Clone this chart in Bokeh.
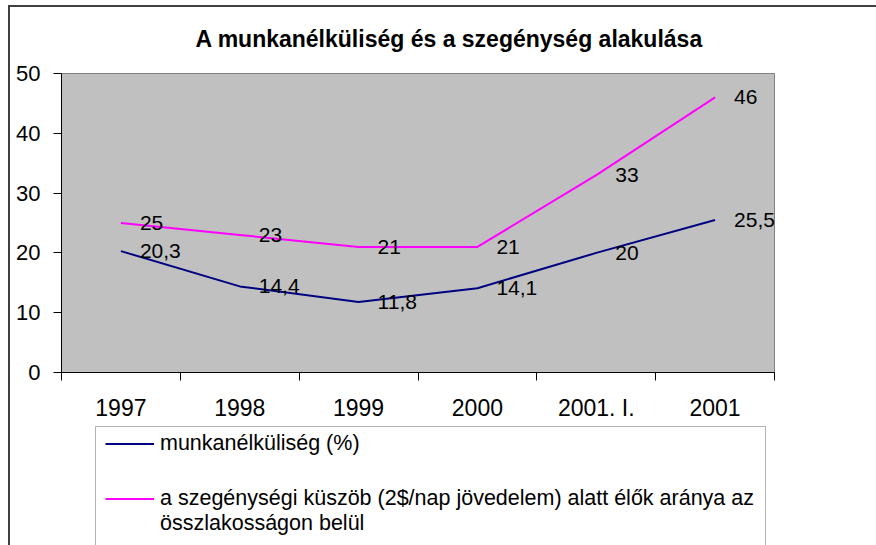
from bokeh.plotting import figure
from bokeh.layouts import column
from bokeh.models import (Range1d, FixedTicker, ColumnDataSource, LabelSet,
                          Legend, LegendItem, BoxAnnotation)
from bokeh.core.properties import value
from bokeh.embed import file_html
from bokeh.resources import INLINE

# ---- data ----
categories = ["1997", "1998", "1999", "2000", "2001. I.", "2001"]
unemployment = [20.3, 14.4, 11.8, 14.1, 20, 25.5]
poverty = [25, 23, 21, 21, 33, 46]
y_ticks = [0, 10, 20, 30, 40, 50]
title_text = "A munkanélküliség és a szegénység alakulása"
series_names = [
    "munkanélküliség (%)",
    "a szegénységi küszöb (2$/nap jövedelem) alatt élők aránya az\nösszlakosságon belül",
]
colors = ["#000080", "#FF00FF"]

FONT = "Liberation Sans"
OX, OY = 8, 0               # canvas offset on the page
W = 876 - OX
SPLIT = 424                 # screen y where the legend strip starts
H1 = SPLIT - OY
H2 = 545 - SPLIT
FL, FR, FT, FB = 61 - OX, 774 - OX, 73 - OY, 372 - OY
FW = FR - FL
BLANK = "\u00a0"


def fmt(v):
    return ("%g" % v).replace(".", ",")


xs = [i + 0.5 for i in range(len(categories))]

# ---------------- main chart ----------------
p = figure(width=W, height=H1, output_backend="svg", toolbar_location=None,
           x_range=Range1d(0, len(categories)), y_range=Range1d(y_ticks[0], y_ticks[-1]),
           min_border_left=FL, min_border_right=W - FR,
           min_border_top=FT, min_border_bottom=H1 - FB,
           title=title_text)

p.background_fill_color = "#C0C0C0"
p.border_fill_alpha = 0
p.outline_line_color = "#808080"
p.outline_line_width = 1
p.xgrid.visible = False
p.ygrid.visible = False

p.title.text_font = FONT
p.title.text_font_size = "23px"
p.title.text_font_style = "bold"
p.title.text_color = "black"
p.title.align = "left"
p.title.offset = 134
p.title.standoff = 43

xa = p.xaxis[0]
xa.ticker = FixedTicker(ticks=xs, minor_ticks=list(range(len(categories) + 1)))
xa.major_label_overrides = {x: c for x, c in zip(xs, categories)}
xa.major_tick_out = 0
xa.major_tick_in = 0
xa.minor_tick_out = 8
xa.minor_tick_in = 0
xa.minor_tick_line_color = "black"
xa.axis_line_color = "black"
xa.major_label_text_font = FONT
xa.major_label_text_font_size = "23px"
xa.major_label_text_color = "black"
xa.major_label_standoff = 14

ya = p.yaxis[0]
ya.ticker = FixedTicker(ticks=y_ticks, minor_ticks=[])
ya.major_tick_out = 8
ya.major_tick_in = 0
ya.major_tick_line_color = "black"
ya.axis_line_color = "black"
ya.major_label_text_font = FONT
ya.major_label_text_font_size = "22px"
ya.major_label_text_color = "black"
ya.major_label_standoff = 13

src_u = ColumnDataSource(dict(x=xs, y=unemployment, t=[fmt(v) for v in unemployment]))
src_p = ColumnDataSource(dict(x=xs, y=poverty, t=[fmt(v) for v in poverty]))

p.line("x", "y", source=src_u, line_color=colors[0], line_width=2)
p.line("x", "y", source=src_p, line_color=colors[1], line_width=2)

for src in (src_u, src_p):
    p.add_layout(LabelSet(x="x", y="y", text="t", source=src, x_offset=19,
                          text_baseline="middle", text_align="left",
                          text_font=value(FONT), text_font_size="21px",
                          text_color="black"))

# ---------------- legend strip ----------------
# the key renderers reuse the series sources; their data lie outside this
# strip's ranges, so only the legend swatches are visible here
p2 = figure(width=W, height=H2, output_backend="svg", toolbar_location=None,
            x_axis_type=None, y_axis_type=None,
            x_range=Range1d(100, 101), y_range=Range1d(100, 101),
            min_border_left=FL, min_border_right=W - FR,
            min_border_top=0, min_border_bottom=0)
p2.background_fill_color = "white"
p2.border_fill_alpha = 0
p2.outline_line_color = None
p2.xgrid.visible = False
p2.ygrid.visible = False
# pixel ranges for the legend frame (y grows downwards)
p2.extra_x_ranges = {"px": Range1d(0, FW)}
p2.extra_y_ranges = {"px": Range1d(H2, 0)}

# legend frame: open at the bottom edge of the picture
p2.add_layout(BoxAnnotation(left=34, right=704, top=2, bottom=H2 + 200,
                            x_range_name="px", y_range_name="px",
                            fill_color="white", fill_alpha=1,
                            line_color="black", line_width=1))

key1 = p2.line("x", "y", source=src_u, line_color=colors[0], line_width=2)
key2 = p2.line("x", "y", source=src_p, line_color=colors[1], line_width=2)

# a blank first line keeps the swatch level with the label's first text line
label2 = "\n".join([BLANK, series_names[1]])

legend = Legend(items=[LegendItem(label=series_names[0], renderers=[key1]),
                       LegendItem(label=label2, renderers=[key2])],
                location=(44, 9), orientation="vertical",
                padding=3, spacing=4, margin=0,
                glyph_width=49, glyph_height=27, label_height=27,
                label_standoff=6,
                label_text_font=FONT, label_text_font_size="21.5px",
                label_text_color="black", label_text_line_height=1.45,
                border_line_color=None,
                background_fill_alpha=0)
p2.add_layout(legend)

layout = column(p, p2, spacing=0)
layout.styles = {
    "margin-left": "8px",
    "background-image": "linear-gradient(#404040, #404040), linear-gradient(#404040, #404040)",
    "background-repeat": "no-repeat, no-repeat",
    "background-size": "100% 2px, 2px 100%",
    "background-position": "0 5px, 0 5px",
}

open("out.html", "w").write(file_html(layout, INLINE))
